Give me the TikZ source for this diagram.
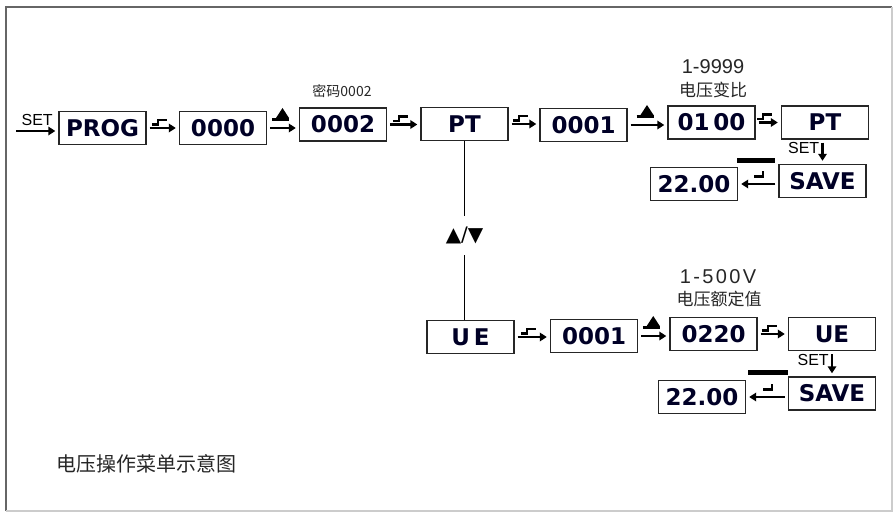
\documentclass[tikz,border=0pt]{standalone}
\usepackage{fontspec}
\setmainfont{Liberation Sans}
\newfontfamily\cjk{Noto Sans CJK SC}
\newfontfamily\lcd{DejaVu Sans}
\usetikzlibrary{arrows.meta, calc}

\newcommand{\lcdfont}{\lcd\bfseries\fontsize{23}{23}\selectfont}

\begin{document}
\begin{tikzpicture}[
  x=1pt, y=-1pt,
  lcdbox/.style={draw=black!85, line width=1.4pt, minimum width=87pt,
    minimum height=33pt, inner sep=0pt, font=\lcdfont, text=black!85!blue},
  link/.style={-{Triangle[length=7pt, width=8.5pt]}, line width=2.6pt,
    shorten <=3pt, shorten >=3pt},
  keylabel/.style={font=\fontsize{16}{16}\selectfont, inner sep=1pt},
  rangetext/.style={font=\fontsize{20}{20}\selectfont, inner sep=0pt, text=black!85},
  note/.style={font=\cjk\fontsize{17}{17}\selectfont, inner sep=0pt, text=black!85},
  glyph/.style={-, line width=2.2pt, shorten <=0pt, shorten >=0pt},
  enter/.pic={\draw[glyph] (-11,-3.5) -- (-5,-3.5) -- (-5,-8) -- (4,-8);},
  back/.pic={\draw[glyph] (-4,-7.5) -- (5,-7.5) -- (5,-13);},
  up/.pic={
    \fill (-7,-10) -- (6,-10) -- (-0.5,-20) -- cycle;
    \draw[glyph] (-11,-8.5) -- (6,-8.5);}
]
\useasboundingbox (0,0) rectangle (894,513);
\draw[gray!80!black, line width=1.5pt] (6,511) -- (6,7) -- (892,7);
\draw[gray!40, line width=1.5pt] (6,511) -- (892,511) -- (892,7);

% voltage ratio row
\node[lcdbox] (prog) at (102.5,128) {PROG};
\node[lcdbox] (zeroA) at (223,128) {0000};
\node[lcdbox] (pwd) at (343,124.5) {0002};
\node[lcdbox] (ptA) at (464.5,124) {PT};
\node[lcdbox] (oneA) at (583.5,125) {0001};
\node[lcdbox] (ratio) at (711.5,122.5) {01\,00};
\node[lcdbox] (ptB) at (825,122.5) {PT};
\node[lcdbox] (saveA) at (822.5,181) {SAVE};
\node[lcdbox] (dispA) at (694,184) {22.00};

% rated voltage row
\node[lcdbox] (ue) at (470.5,337) {U\,E};
\node[lcdbox] (oneB) at (594,336) {0001};
\node[lcdbox] (rated) at (713.5,334) {0220};
\node[lcdbox] (ueB) at (832,334) {UE};
\node[lcdbox] (saveB) at (832,393.5) {SAVE};
\node[lcdbox] (dispB) at (702,397) {22.00};

% notes
\node[note, font=\cjk\fontsize{14}{14}\selectfont] (pwdnote) at (342,91) {密码0002};
\node[rangetext] (ratiorange) at (713,67) {1-9999};
\node[note] (rationote) at (713,89.5) {电压变比};
\node[rangetext] (ratedrange) at (718,277) {\addfontfeature{LetterSpace=12}1-500V};
\node[note] (ratednote) at (719,299) {电压额定值};
\node[note, font=\cjk\fontsize{20}{20}\selectfont, anchor=west] (caption) at (56,464) {电压操作菜单示意图};

% connectors
\coordinate (start) at (16,131);
\draw[link, shorten <=0pt] (start) -- (start -| prog.west)
  node[keylabel, midway, above=3pt] (setA) {SET};
\draw[link] (prog.east) -- (prog.east -| zeroA.west) pic[pos=.5] {enter};
\draw[link] (zeroA.east) -- (zeroA.east -| pwd.west) pic[pos=.5] {up};
\draw[link] (pwd.east) -- (pwd.east -| ptA.west) pic[pos=.5] {enter};
\draw[link] (ptA.east) -- (ptA.east -| oneA.west) pic[pos=.5] {enter};
\draw[link] (oneA.east) -- (oneA.east -| ratio.west) pic[pos=.5] {up};
\draw[link] (ratio.east) -- (ratio.east -| ptB.west) pic[pos=.5] {enter};
\draw[link] (saveA.north |- ptB.south) -- (saveA.north)
  node[keylabel, pos=.35, left=1pt] (setB) {SET};
\draw[link] (dispA.east -| saveA.west) -- (dispA.east) pic[pos=.5] {back};
\fill ($(saveA.north west)+(-41,-1)$) rectangle ++(38,-4.5);

\draw[line width=1.3pt] (ptA.south) -- (ptA.south |- ue.north)
  node[pos=.53, fill=white, inner xsep=1pt, inner ysep=11pt,
    font=\lcd\fontsize{20}{20}\selectfont] (updown) {▲/▼};

\draw[link] (ue.east) -- (ue.east -| oneB.west) pic[pos=.5] {enter};
\draw[link] (oneB.east) -- (oneB.east -| rated.west) pic[pos=.5] {up};
\draw[link] (rated.east) -- (rated.east -| ueB.west) pic[pos=.5] {enter};
\draw[link] (saveB.north |- ueB.south) -- (saveB.north)
  node[keylabel, pos=.35, left=1pt] (setC) {SET};
\draw[link] (dispB.east -| saveB.west) -- (dispB.east) pic[pos=.5] {back};
\fill ($(saveB.north west)+(-40,-1)$) rectangle ++(40,-5);
\end{tikzpicture}
\end{document}
